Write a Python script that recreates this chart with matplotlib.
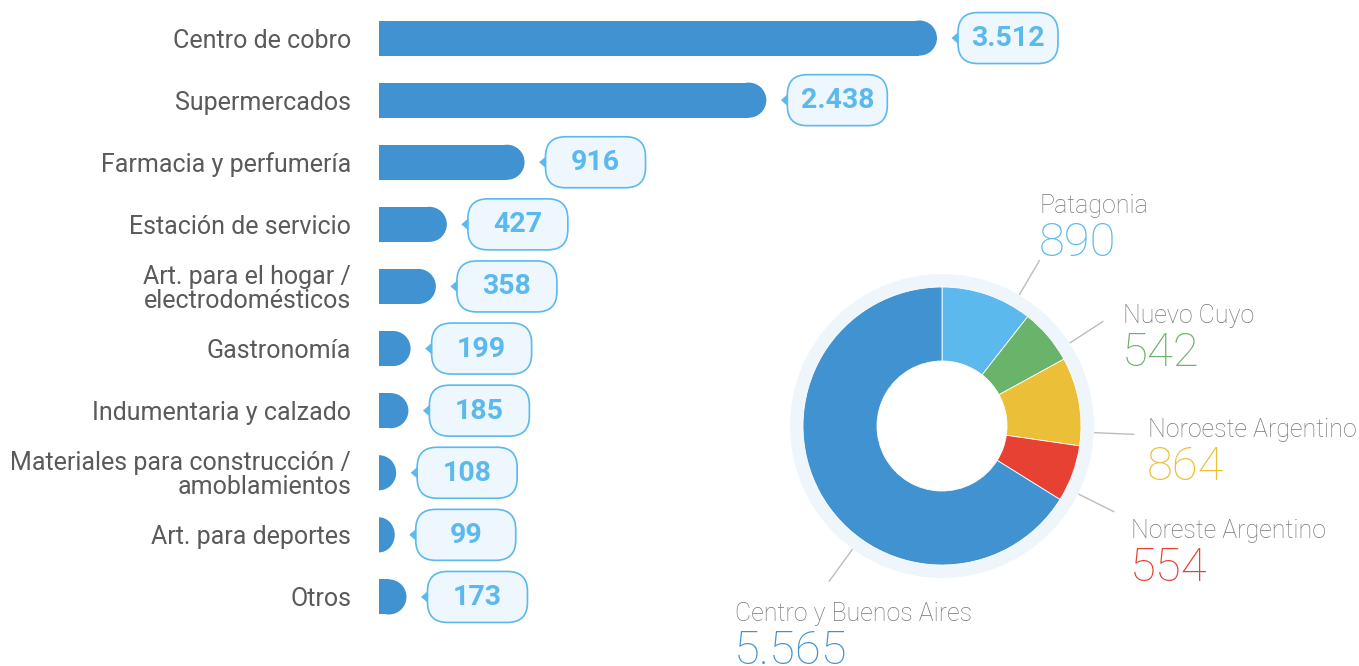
import matplotlib.pyplot as plt
import matplotlib.transforms as mtransforms
from matplotlib.patches import Ellipse, FancyBboxPatch, Polygon
import numpy as np

# bar chart data
categories = ['Centro de cobro', 'Supermercados', 'Farmacia y perfumería',
              'Estación de servicio', 'Art. para el hogar /\nelectrodomésticos',
              'Gastronomía', 'Indumentaria y calzado',
              'Materiales para construcción /\namoblamientos',
              'Art. para deportes', 'Otros']
counts = [3512, 2438, 916, 427, 358, 199, 185, 108, 99, 173]

# donut data
regions = ['Patagonia', 'Nuevo Cuyo', 'Noroeste Argentino',
           'Noreste Argentino', 'Centro y Buenos Aires']
region_counts = [890, 542, 864, 554, 5565]
region_colors = ['#5bb9ee', '#6ab36a', '#ecbf38', '#e64133', '#4192d0']


def fmt(v):
    return f'{v:,}'.replace(',', '.')


BAR = '#4192d0'
LIGHT = '#5bb9ee'
W, H = 1359, 666
fig = plt.figure(figsize=(W / 100, H / 100), dpi=100)

# ---- horizontal bars ----
ax = fig.add_axes([379 / W, 38 / H, 700 / W, 621 / H])
ax.set_xlim(0, 4406)
ax.set_ylim(len(counts) - 0.5, -0.5)
for s in ax.spines.values():
    s.set_visible(False)
ax.set_xticks([])
ax.patch.set_alpha(0)

bar_h = 0.565
px_per_unit = 700 / 4406
rx = (bar_h * 621 / len(counts) / 2) / px_per_unit  # radius of rounded end, x units
ypos = np.arange(len(counts))
vals = np.array(counts, dtype=float)
ax.barh(ypos, np.maximum(vals - rx, 0), height=bar_h, color=BAR)
for y, v in zip(ypos, vals):
    r = min(rx, v)
    ax.add_patch(Ellipse((v - r, y), 2 * r, bar_h, color=BAR, lw=0))

ax.set_yticks(ypos, categories)
ax.tick_params(axis='y', length=0, pad=20)
for lbl in ax.get_yticklabels():
    lbl.set_fontfamily('Roboto')
    lbl.set_fontsize(18)
    lbl.set_color('#5a5a5a')
    lbl.set_linespacing(1.0)

# value callouts (sizes in inches = 100 px)
for y, v in zip(ypos, counts):
    tr = fig.dpi_scale_trans + mtransforms.ScaledTranslation(v, y, ax.transData)
    box = FancyBboxPatch((0.21, -0.255), 1.0, 0.51,
                         boxstyle='round,pad=0,rounding_size=0.2',
                         transform=tr, fc='#eef7fd', ec=LIGHT, lw=1.2,
                         clip_on=False)
    ax.add_patch(box)
    ax.add_patch(Polygon([(0.145, 0), (0.215, 0.06), (0.215, -0.06)],
                         closed=True, transform=tr, fc=LIGHT, ec='none',
                         clip_on=False))
    ax.text(0.71, -0.005, fmt(v), transform=tr, ha='center', va='center',
            fontfamily='Roboto', fontweight='bold', fontsize=20.5, color=LIGHT)

# ---- donut ----
R = 139
half = 1.2 * R
dax = fig.add_axes([(942 - half) / W, (H - 426 - half) / H,
                    2 * half / W, 2 * half / H])
dax.pie([1], radius=152 / R, colors=['#eef6fc'],
        wedgeprops=dict(width=(152 - 139) / R, edgecolor='none'))
dax.pie(region_counts, radius=1, colors=region_colors, startangle=90,
        counterclock=False,
        wedgeprops=dict(width=1 - 65 / R, edgecolor='white', linewidth=0.6))
dax.set_xlim(-1.2, 1.2)
dax.set_ylim(-1.2, 1.2)
dax.set_aspect('auto')
dax.axis('off')

# label layout: leader angle (deg clockwise from top), text x, label baseline
leader_angles = [30.5, 57, 92.5, 116.5, 216]
label_x = [0.705, 1.302, 1.482, 1.360, -1.489]
label_base = [1.532, 0.741, -0.079, -0.806, -1.403]
for name, v, col, a, lx, lb in zip(regions, region_counts, region_colors,
                                   leader_angles, label_x, label_base):
    t = np.deg2rad(90 - a)
    dax.plot([1.1 * np.cos(t), 1.38 * np.cos(t)],
             [1.1 * np.sin(t), 1.38 * np.sin(t)],
             color='#bdbdbd', lw=1, clip_on=False)
    dax.text(lx, lb, name, ha='left', va='baseline', fontfamily='Roboto',
             fontweight='light', fontsize=18, color='#777777', clip_on=False)
    dax.text(lx - 0.01, lb - 0.31, fmt(v), ha='left', va='baseline',
             fontfamily='Roboto', fontweight='light', fontsize=34, color=col,
             clip_on=False)

fig.savefig('out.png', dpi=100)
